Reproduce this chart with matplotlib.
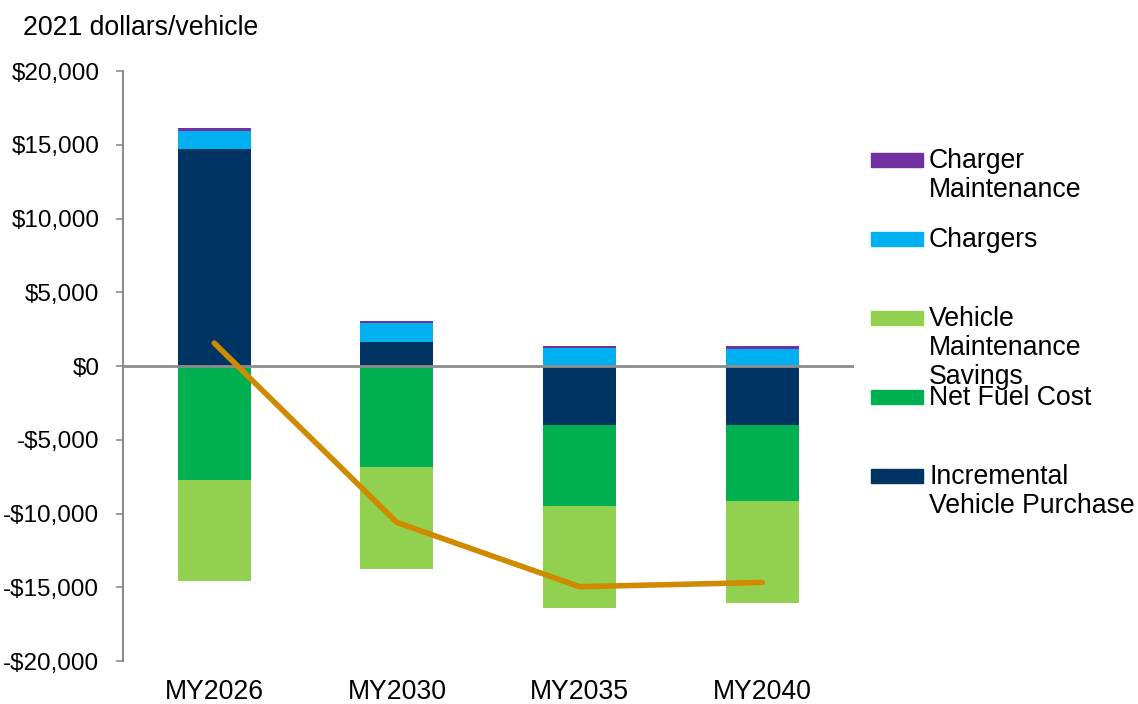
import matplotlib
matplotlib.use('Agg')
import matplotlib.pyplot as plt
from matplotlib.patches import Rectangle
import numpy as np

plt.rcParams['font.family'] = ['Liberation Sans', 'DejaVu Sans']

# ─── Données (milliers de $ 2021 / véhicule) ───────────────
years = ['MY2026', 'MY2030', 'MY2035', 'MY2040']
incremental = [14.71, 1.65, -4.00, -4.00]
chargers = [1.26, 1.25, 1.20, 1.15]
charger_maint = [0.17, 0.15, 0.18, 0.21]
net_fuel = [-7.73, -6.85, -5.49, -5.15]
veh_maint = [-6.85, -6.91, -6.89, -6.90]
net_total = [1.56, -10.60, -14.96, -14.67]

legend_labels = ['Charger\nMaintenance', 'Chargers',
                 'Vehicle\nMaintenance\nSavings', 'Net Fuel Cost',
                 'Incremental\nVehicle Purchase']
# ──────────────────────────────────────────────────────────

C_PURPLE = '#7030A0'
C_CHARG = '#00B0F0'
C_LGREEN = '#92D050'
C_GREEN = '#00B050'
C_NAVY = '#003462'
C_LINE = '#D08A00'
FS = 17.5      # graduations y
FS_BIG = 19.2  # titre, légende, catégories

fig = plt.figure(figsize=(11.38, 7.04), dpi=100)
ax = fig.add_axes([0.108, 0.061, 0.642, 0.838])

x = np.arange(len(years))
w = 0.4
scale = 1000
inc = np.array(incremental) * scale
chg = np.array(chargers) * scale
cm = np.array(charger_maint) * scale
fuel = np.array(net_fuel) * scale
vm = np.array(veh_maint) * scale

# partie positive
pos_base = np.where(inc > 0, inc, 0)
ax.bar(x, inc, w, color=C_NAVY, zorder=2)
ax.bar(x, chg, w, bottom=pos_base, color=C_CHARG, zorder=2)
ax.bar(x, cm, w, bottom=pos_base + chg, color=C_PURPLE, zorder=2)
# partie négative
neg_base = np.where(inc < 0, inc, 0)
ax.bar(x, fuel, w, bottom=neg_base, color=C_GREEN, zorder=2)
ax.bar(x, vm, w, bottom=neg_base + fuel, color=C_LGREEN, zorder=2)

ax.plot(x, np.array(net_total) * scale, color=C_LINE, linewidth=4,
        solid_capstyle='round', zorder=4)

ax.axhline(0, color='#8C8C8C', linewidth=2, zorder=3)

ax.set_xlim(-0.5, 3.5)
ax.set_ylim(-20000, 20000)
ax.set_yticks(np.arange(-20000, 20001, 5000))
ax.set_yticklabels([f'${v:,.0f}' if v >= 0 else f'-${-v:,.0f}'
                    for v in np.arange(-20000, 20001, 5000)])
ax.set_xticks(x)
ax.set_xticklabels(years)
ax.tick_params(axis='y', length=5, width=1.2, color='#8C8C8C', pad=12,
               labelsize=FS)
ax.tick_params(axis='x', length=0, pad=13, labelsize=FS_BIG)
for s in ['top', 'right', 'bottom']:
    ax.spines[s].set_visible(False)
ax.spines['left'].set_color('#8C8C8C')
ax.spines['left'].set_linewidth(1.5)

fig.text(23 / 1138, 1 - 28 / 704, '2021 dollars/vehicle', fontsize=FS_BIG,
         va='center', ha='left')

# légende manuelle (espacement fixe comme l'original)
leg_colors = [C_PURPLE, C_CHARG, C_LGREEN, C_GREEN, C_NAVY]
W, H = 1138, 704
for i, (lab, col) in enumerate(zip(legend_labels, leg_colors)):
    yc = 160 + 79 * i
    fig.add_artist(Rectangle((871 / W, 1 - (yc + 7) / H), 52 / W, 14 / H,
                             transform=fig.transFigure, color=col))
    fig.text(929 / W, 1 - (yc - 12) / H, lab, fontsize=FS_BIG, va='top',
             ha='left', linespacing=1.15)

plt.savefig('out.png', dpi=100)
